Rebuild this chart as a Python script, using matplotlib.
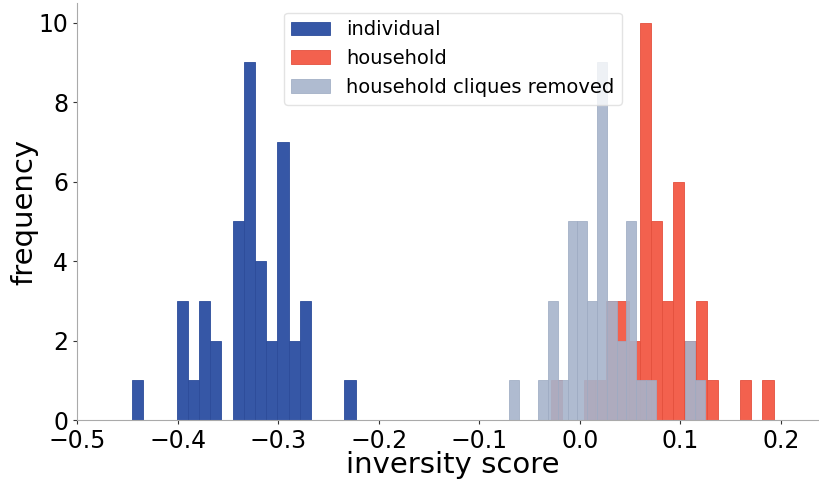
import numpy as np
import matplotlib
matplotlib.use("Agg")
import matplotlib.pyplot as plt

# bin ranges (inversity score) and counts per bin, 20 bins each
individual_range = (-0.4453, -0.2230)
individual_counts = [1, 0, 0, 0, 3, 1, 3, 2, 0, 5, 9, 4, 2, 7, 2, 3, 0, 0, 0, 1]

household_range = (-0.0291, 0.1928)
household_counts = [1, 0, 0, 1, 1, 3, 3, 2, 10, 5, 3, 6, 2, 3, 1, 0, 0, 1, 0, 1]

removed_range = (-0.0706, 0.1245)
removed_counts = [1, 0, 0, 1, 3, 1, 5, 5, 3, 9, 3, 2, 5, 1, 1, 0, 0, 0, 2, 1]

series = [
    ("individual", individual_range, individual_counts, "#3657a6", "#2c4c9a", 1.0),
    ("household", household_range, household_counts, "#f3614e", "#e4503d", 1.0),
    ("household cliques removed", removed_range, removed_counts, "#a7b4cb", "#9eabc3", 0.9),
]


def main():
    fig = plt.figure(figsize=(8.2, 4.8), dpi=100)
    ax = fig.add_axes([0.094, 0.125, 0.9036, 0.869])

    for label, (lo, hi), counts, color, edge, alpha in series:
        edges = np.linspace(lo, hi, len(counts) + 1)
        ax.hist(edges[:-1], bins=edges, weights=counts, color=color,
                edgecolor=edge, linewidth=0.6, alpha=alpha, label=label)

    ax.set_xlim(-0.5, 0.237)
    ax.set_xticks([-0.5, -0.4, -0.3, -0.2, -0.1, 0.0, 0.1, 0.2])
    ax.set_yticks([0, 2, 4, 6, 8, 10])
    ax.tick_params(labelsize=17, length=3, color="#333333")
    ax.set_xlabel("inversity score", fontsize=21, labelpad=0)
    ax.xaxis.set_label_coords(0.507, -0.075)
    ax.set_ylabel("frequency", fontsize=21, labelpad=0)

    for s in ["top", "right"]:
        ax.spines[s].set_visible(False)
    for s in ["left", "bottom"]:
        ax.spines[s].set_color("#aaaaaa")

    ax.legend(loc="upper center", bbox_to_anchor=(0.507, 1.0), fontsize=14,
              handlelength=2.0, edgecolor="#dddddd")

    fig.savefig("out.png", dpi=100)


if __name__ == "__main__":
    main()
